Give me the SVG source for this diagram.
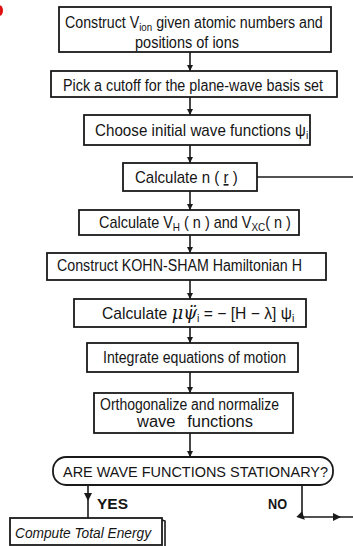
<svg xmlns="http://www.w3.org/2000/svg" width="353" height="546" viewBox="0 0 353 546">
<style>
.box{fill:#fff;stroke:#1a1a1a;stroke-width:1.8}
.ln{fill:none;stroke:#1a1a1a;stroke-width:1.6}
text{font-family:"Liberation Sans",Arial,sans-serif;fill:#151515}
.t{font-size:16px}
.s{font-size:11px}
.g{font-family:"DejaVu Serif",serif;font-style:italic;font-size:18px}
.c{font-size:15px}
.b{font-size:15px;font-weight:bold}
.i{font-size:15px;font-style:italic}
</style>
<defs>
<marker id="ah" viewBox="0 0 10 10" refX="10" refY="5" markerWidth="6" markerHeight="6" markerUnits="userSpaceOnUse" orient="auto">
<path d="M0,0 L10,5 L0,10 z" fill="#1a1a1a"/>
</marker>
<marker id="am" viewBox="0 0 10 10" refX="5" refY="5" markerWidth="9" markerHeight="8" markerUnits="userSpaceOnUse" orient="auto">
<path d="M0,0 L10,5 L0,10 z" fill="#1a1a1a"/>
</marker>
</defs>
<rect width="353" height="546" fill="#fff"/>
<ellipse cx="-1" cy="10.5" rx="4" ry="5.5" fill="#e01010"/>

<g id="connectors">
<line class="ln" x1="190" y1="52" x2="190" y2="71" marker-end="url(#ah)"/>
<line class="ln" x1="190" y1="97" x2="190" y2="115" marker-end="url(#ah)"/>
<line class="ln" x1="190" y1="145" x2="190" y2="163" marker-end="url(#ah)"/>
<line class="ln" x1="190" y1="191" x2="190" y2="210" marker-end="url(#ah)"/>
<line class="ln" x1="190" y1="235" x2="190" y2="253" marker-end="url(#ah)"/>
<line class="ln" x1="190" y1="280" x2="190" y2="299" marker-end="url(#ah)"/>
<line class="ln" x1="190" y1="327" x2="190" y2="343" marker-end="url(#ah)"/>
<line class="ln" x1="190" y1="372" x2="190" y2="393" marker-end="url(#ah)"/>
<line class="ln" x1="190" y1="433" x2="190" y2="457" marker-end="url(#ah)"/>
<line class="ln" x1="257" y1="177" x2="353" y2="177"/>
<polyline class="ln" points="88,485 88,497 88,518" marker-mid="url(#am)"/>
<polyline class="ln" points="302,485 302,517 337,517 353,517" marker-mid="url(#am)"/>
</g>

<g id="n1">
<rect class="box" x="59" y="7" width="272" height="45"/>
<text class="t" transform="translate(65,28) scale(0.888,1)">Construct V<tspan class="s" dy="3">ion</tspan><tspan dy="-3"> given atomic numbers and</tspan></text>
<text class="t" x="135" y="48" textLength="104" lengthAdjust="spacingAndGlyphs">positions of ions</text>
</g>
<g id="n2">
<rect class="box" x="51" y="71" width="286" height="26"/>
<text class="t" x="63" y="91" textLength="260" lengthAdjust="spacingAndGlyphs">Pick a cutoff for the plane-wave basis set</text>
</g>
<g id="n3">
<rect class="box" x="84" y="115" width="226" height="30"/>
<text class="t" transform="translate(95,136) scale(0.95,1)">Choose initial wave functions ψ<tspan class="s" dy="3">i</tspan></text>
</g>
<g id="n4">
<rect class="box" x="123" y="163" width="134" height="28"/>
<text class="t" transform="translate(135,183) scale(0.94,1)">Calculate n ( <tspan text-decoration="underline">r</tspan> )</text>
</g>
<g id="n5">
<rect class="box" x="79" y="210" width="220" height="25"/>
<text class="t" transform="translate(99,228) scale(0.903,1)">Calculate V<tspan class="s" dy="3">H</tspan><tspan dy="-3"> ( n ) and V</tspan><tspan class="s" dy="3">XC</tspan><tspan dy="-3">( n )</tspan></text>
</g>
<g id="n6">
<rect class="box" x="47" y="253" width="279" height="27"/>
<text class="t" x="57" y="271" textLength="245" lengthAdjust="spacingAndGlyphs">Construct KOHN-SHAM Hamiltonian H</text>
</g>
<g id="n7">
<rect class="box" x="74" y="299" width="232" height="28"/>
<text class="t" transform="translate(102,319) scale(0.98,1)">Calculate <tspan class="g">μψ̈</tspan><tspan class="s" dy="3">i</tspan><tspan dy="-3"> = − [H − λ] ψ</tspan><tspan class="s" dy="3">i</tspan></text>
</g>
<g id="n8">
<rect class="box" x="87" y="343" width="211" height="29"/>
<text class="t" x="103" y="363" textLength="183" lengthAdjust="spacingAndGlyphs">Integrate equations of motion</text>
</g>
<g id="n9">
<rect class="box" x="94" y="393" width="199" height="40"/>
<text class="t" x="100" y="410" textLength="179" lengthAdjust="spacingAndGlyphs">Orthogonalize and normalize</text>
<text class="t" x="137" y="427" textLength="116" lengthAdjust="spacingAndGlyphs" word-spacing="7">wave functions</text>
</g>
<g id="decision">
<rect class="box" x="53" y="457" width="280" height="28" rx="13" ry="13"/>
<text class="c" x="63" y="477" textLength="265" lengthAdjust="spacingAndGlyphs">ARE WAVE FUNCTIONS STATIONARY?</text>
</g>
<g id="labels">
<text class="b" x="97" y="509" textLength="31" lengthAdjust="spacingAndGlyphs">YES</text>
<text class="b" x="268" y="509" textLength="19" lengthAdjust="spacingAndGlyphs">NO</text>
</g>
<g id="n10">
<polyline class="ln" points="162,520 165,521 165,546"/>
<rect class="box" x="10" y="518" width="152" height="27"/>
<text class="i" x="15" y="538" textLength="136" lengthAdjust="spacingAndGlyphs">Compute Total Energy</text>
</g>
</svg>
